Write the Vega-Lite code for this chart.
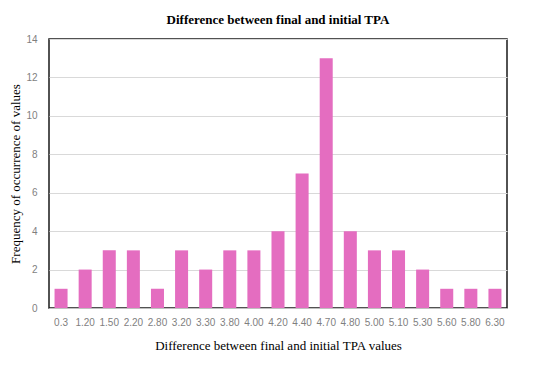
{
  "$schema": "https://vega.github.io/schema/vega-lite/v6.json",
  "width": 458,
  "height": 269,
  "autosize": {"type": "none"},
  "padding": {"left": 49, "top": 39, "right": 43, "bottom": 57},
  "background": "white",
  "title": {
    "text": "Difference between final and initial TPA",
    "font": "Liberation Serif",
    "fontSize": 13,
    "fontWeight": "bold",
    "color": "#000000",
    "offset": 7,
    "anchor": "middle"
  },
  "data": {
    "values": [
      {"diff": "0.3", "count": 1},
      {"diff": "1.20", "count": 2},
      {"diff": "1.50", "count": 3},
      {"diff": "2.20", "count": 3},
      {"diff": "2.80", "count": 1},
      {"diff": "3.20", "count": 3},
      {"diff": "3.30", "count": 2},
      {"diff": "3.80", "count": 3},
      {"diff": "4.00", "count": 3},
      {"diff": "4.20", "count": 4},
      {"diff": "4.40", "count": 7},
      {"diff": "4.70", "count": 13},
      {"diff": "4.80", "count": 4},
      {"diff": "5.00", "count": 3},
      {"diff": "5.10", "count": 3},
      {"diff": "5.30", "count": 2},
      {"diff": "5.60", "count": 1},
      {"diff": "5.80", "count": 1},
      {"diff": "6.30", "count": 1}
    ]
  },
  "mark": {"type": "bar", "color": "#E46DC0"},
  "encoding": {
    "x": {
      "field": "diff",
      "type": "ordinal",
      "sort": null,
      "scale": {"paddingInner": 0.46, "paddingOuter": 0.23},
      "axis": {
        "title": "Difference between final and initial TPA values",
        "titleFont": "Liberation Serif",
        "titleFontSize": 13,
        "titleFontWeight": "normal",
        "titleColor": "#000000",
        "titlePadding": 12,
        "labelAngle": 0,
        "labelFont": "Liberation Sans",
        "labelFontSize": 10,
        "labelColor": "#7f7f7f",
        "labelPadding": 9,
        "ticks": false,
        "domainColor": "#bfbfbf"
      }
    },
    "y": {
      "field": "count",
      "type": "quantitative",
      "scale": {"domain": [0, 14]},
      "axis": {
        "title": "Frequency of occurrence of values",
        "titleFont": "Liberation Serif",
        "titleFontSize": 13,
        "titleFontWeight": "normal",
        "titleColor": "#000000",
        "titlePadding": 3,
        "values": [0, 2, 4, 6, 8, 10, 12, 14],
        "labelFont": "Liberation Sans",
        "labelFontSize": 10,
        "labelColor": "#7f7f7f",
        "labelPadding": 12,
        "ticks": false,
        "domain": false,
        "grid": true,
        "gridColor": "#d9d9d9"
      }
    }
  },
  "config": {
    "view": {"stroke": "#1a1a1a", "strokeWidth": 1.5}
  }
}
